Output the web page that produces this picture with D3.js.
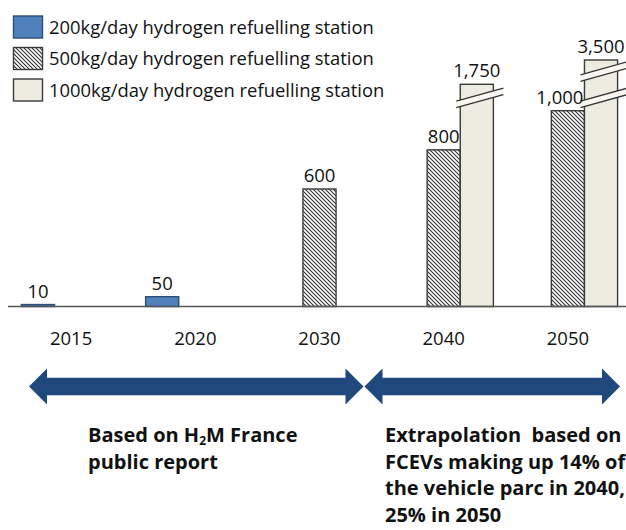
<!DOCTYPE html>
<html>
<head>
<meta charset="utf-8">
<script src="https://cdn.jsdelivr.net/npm/d3@7/dist/d3.min.js"></script>
<style>
  html, body { margin: 0; padding: 0; background: #ffffff; }
  svg { display: block; }
  text { font-family: "Open Sans", "Liberation Sans", sans-serif; fill: #111; }
  text.note { white-space: pre; }
</style>
</head>
<body>
<svg id="chart" width="626" height="530"></svg>
<script>
// ---- data ----
const categories = ["2015", "2020", "2030", "2040", "2050"];
const seriesNames = [
  "200kg/day hydrogen refuelling station",
  "500kg/day hydrogen refuelling station",
  "1000kg/day hydrogen refuelling station"
];
const values200 = [10, 50, null, null, null];
const values500 = [null, null, 600, 800, 1000];
const values1000 = [null, null, null, 1750, 3500];
// axis break points (values above these are drawn compressed)
const breakValues = [1000, 1750];
const notesLeft = ["Based on H|2|M France", "public report"];
const notesRight = ["Extrapolation  based on", "FCEVs making up 14% of", "the vehicle parc in 2040,", "25% in 2050"];

const allSeries = [values200, values500, values1000];

// ---- styles ----
const fills = ["#4F81BD", "url(#hatch)", "#EEECE1"];
const strokes = ["#2E4F78", "#3a3a3a", "#3a3a3a"];

const svg = d3.select("#chart");

// hatch pattern
const defs = svg.append("defs");
const pat = defs.append("pattern")
  .attr("id", "hatch").attr("patternUnits", "userSpaceOnUse")
  .attr("width", 4).attr("height", 4);
pat.append("rect").attr("width", 4).attr("height", 4).attr("fill", "#ffffff");
pat.append("path")
  .attr("d", "M0,0 L4,4 M-1,3 L1,5 M3,-1 L5,1")
  .attr("stroke", "#333").attr("stroke-width", 1.1);

// ---- scales ----
const baseY = 306.5;
const x = d3.scaleBand().domain(categories).range([9, 630])
  .paddingInner(0.2).paddingOuter(0.1);
const xs = d3.scaleBand().domain(d3.range(seriesNames.length)).range([0, x.bandwidth()]);
// piecewise (broken) value axis
const y = d3.scaleLinear()
  .domain([0, breakValues[0], breakValues[1], 3500])
  .range([baseY, 110.7, 84.3, 60]);

const fmt = d3.format(",");

// ---- bars ----
const bars = [];
allSeries.forEach((vals, si) => {
  vals.forEach((v, ci) => {
    if (v == null) return;
    bars.push({ si, ci, v, cat: categories[ci] });
  });
});

const g = svg.append("g");
g.selectAll("rect.bar").data(bars).join("rect")
  .attr("class", "bar")
  .attr("x", d => x(d.cat) + xs(d.si))
  .attr("y", d => y(d.v))
  .attr("width", xs.bandwidth())
  .attr("height", d => baseY - y(d.v))
  .attr("fill", d => fills[d.si])
  .attr("stroke", d => strokes[d.si])
  .attr("stroke-width", 1.4);

// break marks on compressed bars
const slope = -0.28, gap = 6.5;
bars.forEach(d => {
  breakValues.forEach(bv => {
    if (d.v <= bv || d.si === 1) return;
    const x0 = x(d.cat) + xs(d.si);
    const x1 = x0 + xs.bandwidth();
    const cx = (x0 + x1) / 2;
    const cy = y(bv) - 12;
    const ax = x0 - 4, bx = x1 + 10;
    const ya = cy + slope * (ax - cx), yb = cy + slope * (bx - cx);
    g.append("path")
      .attr("d", `M${ax},${ya - gap/2} L${bx},${yb - gap/2} L${bx},${yb + gap/2} L${ax},${ya + gap/2} Z`)
      .attr("fill", "#F8F7F2");
    [-gap/2, gap/2].forEach(o => {
      g.append("line")
        .attr("x1", ax).attr("y1", ya + o).attr("x2", bx).attr("y2", yb + o)
        .attr("stroke", "#333").attr("stroke-width", 1.3);
    });
  });
});

// value labels
g.selectAll("text.val").data(bars).join("text")
  .attr("class", "val")
  .attr("font-size", 18.5)
  .attr("y", d => y(d.v) - 7)
  .text(d => fmt(d.v))
  .each(function(d) {
    const x0 = x(d.cat) + xs(d.si);
    const w = this.getComputedTextLength();
    const hasRight = bars.some(b => b.ci === d.ci && b.si === d.si + 1);
    if (w > xs.bandwidth() && hasRight) {
      d3.select(this).attr("x", x0 + xs.bandwidth() - 1).attr("text-anchor", "end");
    } else {
      d3.select(this).attr("x", x0 + xs.bandwidth() / 2).attr("text-anchor", "middle");
    }
  });

// baseline / x axis
const xAxis = d3.axisBottom(x).tickSize(0).tickPadding(25);
const ax = svg.append("g").attr("transform", `translate(0,${baseY})`).call(xAxis);
ax.select(".domain").attr("d", `M8,0H626`).attr("stroke", "#555").attr("stroke-width", 1.5);
ax.selectAll(".tick text").attr("font-size", 18.5).attr("fill", "#111")
  .attr("font-family", "Open Sans, Liberation Sans, sans-serif");

// ---- legend ----
const leg = svg.append("g");
seriesNames.forEach((name, i) => {
  const ly = 16 + i * 31.5;
  leg.append("rect").attr("x", 13.5).attr("y", ly).attr("width", 29).attr("height", 22)
    .attr("fill", fills[i]).attr("stroke", strokes[i]).attr("stroke-width", 1.4);
  leg.append("text").attr("x", 49).attr("y", ly + 17.5).attr("font-size", 18.4).text(name);
});

// ---- arrows ----
function dblArrow(xl, xr, cy) {
  const hs = 8.7, hh = 18, hl = 18;
  const p = [
    [xl, cy], [xl + hl, cy - hh], [xl + hl, cy - hs], [xr - hl, cy - hs], [xr - hl, cy - hh],
    [xr, cy], [xr - hl, cy + hh], [xr - hl, cy + hs], [xl + hl, cy + hs], [xl + hl, cy + hh]
  ];
  svg.append("path").attr("d", d3.line()(p) + "Z").attr("fill", "#1F497D");
}
dblArrow(29, 363.5, 386.5);
dblArrow(364.5, 620, 386.5);

// ---- notes ----
function note(lines, x0, y0, lh) {
  lines.forEach((ln, i) => {
    const t = svg.append("text").attr("class", "note")
      .attr("font-size", 20).attr("font-weight", "bold")
      .attr("x", x0).attr("y", y0 + i * lh);
    const parts = ln.split("|");
    parts.forEach((p, j) => {
      const ts = t.append("tspan").text(p);
      if (j === 1) ts.attr("font-size", 12).attr("dy", 3);
      if (j === 2) ts.attr("dy", -3);
    });
  });
}
note(notesLeft, 88, 442, 27);
note(notesRight, 385, 442, 26.7);
</script>
</body>
</html>
